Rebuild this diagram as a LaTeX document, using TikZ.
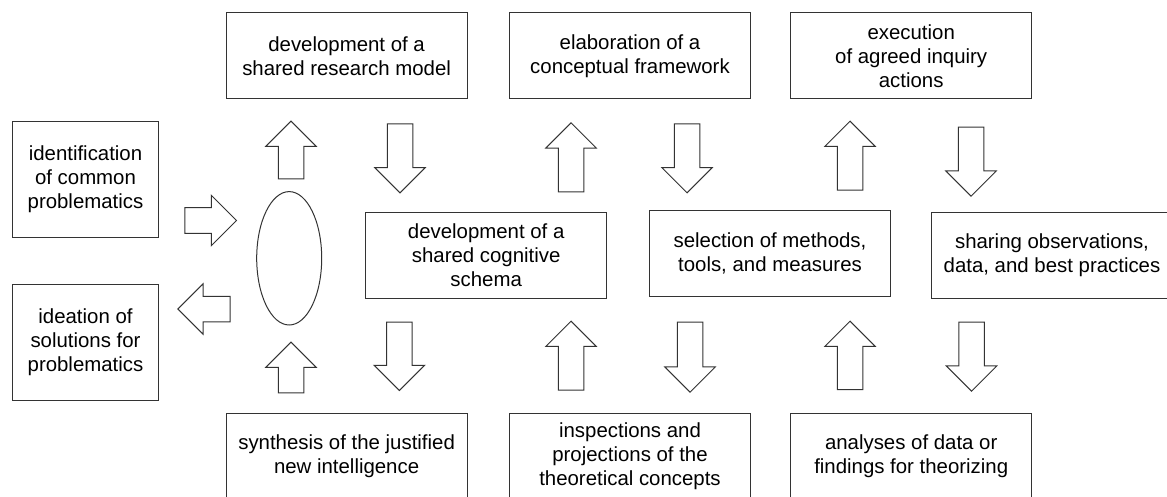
\documentclass[tikz,border=0pt]{standalone}
\usepackage{fontspec}
\setmainfont{Liberation Sans}
\usetikzlibrary{shapes.arrows, shapes.geometric}

\begin{document}
\begin{tikzpicture}[x=1pt, y=-1pt,
    box/.style={draw=black!80, line width=1pt, rectangle, minimum width=241pt, minimum height=86pt,
        inner sep=0pt, align=center, font=\fontsize{20.4}{24}\selectfont},
    sidebox/.style={box, minimum width=146pt, minimum height=115.5pt},
    blockarrow/.style={draw=black!80, line width=1pt, single arrow, single arrow head extend=12.5pt,
        minimum width=49.5pt, inner xsep=0pt, inner ysep=12.25pt, anchor=tail}]

    \useasboundingbox (0, 0) rectangle (1167, 497);

    % Left column
    \node[sidebox] (IDENT) at (85.5, 179.3) {identification\\of common\\problematics};
    \node[sidebox] (IDEA) at (85.5, 342.5) {ideation of\\solutions for\\problematics};

    \node[draw=black!80, line width=1pt, ellipse, minimum width=65pt, minimum height=133.4pt, inner sep=0pt] (HUB) at (289.2, 258.3) {};

    % Top row
    \node[box] (MODEL) at (346.6, 55.9) {development of a\\shared research model};
    \node[box] (FRAME) at (630, 55.9) {elaboration of a\\conceptual framework};
    \node[box] (EXEC) at (911.2, 55.9) {execution\\of agreed inquiry\\actions};

    % Middle row
    \node[box] (SCHEMA) at (486.2, 255.3) {development of a\\shared cognitive\\schema};
    \node[box] (METHOD) at (770, 253.7) {selection of methods,\\tools, and measures};
    \node[box] (SHARE) at (1052, 255.3) {sharing observations,\\data, and best practices};

    % Bottom row
    \node[box] (SYNTH) at (346.6, 456.5) {synthesis of the justified\\new intelligence};
    \node[box] (INSP) at (630, 456.3) {inspections and\\projections of the\\theoretical concepts};
    \node[box] (ANAL) at (911.2, 456.5) {analyses of data or\\findings for theorizing};

    % Block arrows: tail x / tail y / direction / length
    \foreach \x/\y/\a/\l [count=\i] in {291/179.5/90/57.8, 400/123.3/-90/69, 571/192.3/90/69,
            687/123.3/-90/69, 850/190.7/90/69, 971/126.7/-90/69,
            291/393.3/90/50.6, 399.3/321.7/-90/68.3, 571/390.7/90/69,
            690/321.7/-90/70, 850/390/90/68.3, 971.5/321.7/-90/69,
            184.3/220.5/0/51.7, 230.7/309/180/52.4}
        {
            \node[blockarrow, rotate=\a, minimum height=\l] (ARR\i) at (\x, \y) {};
        }

\end{tikzpicture}
\end{document}
